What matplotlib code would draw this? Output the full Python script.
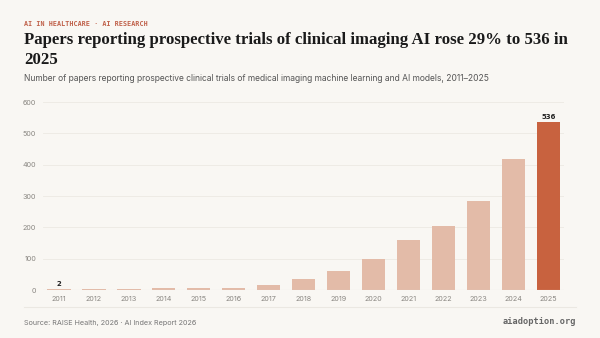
import matplotlib.pyplot as plt

# data
years = ["2011", "2012", "2013", "2014", "2015", "2016", "2017", "2018",
         "2019", "2020", "2021", "2022", "2023", "2024", "2025"]
papers = [2, 4, 4, 7, 6, 7, 16, 35, 60, 100, 161, 205, 283, 418, 536]
y_ticks = [0, 100, 200, 300, 400, 500, 600]

BG = "#f9f7f3"
BAR = "#e3bba8"
HIGHLIGHT = "#c8623f"
ACCENT = "#c0614a"

fig = plt.figure(figsize=(6, 3.38), dpi=100, facecolor=BG)
ax = fig.add_axes([0.072, 0.142, 0.868, 0.556])
ax.set_facecolor(BG)

colors = [BAR] * (len(years) - 1) + [HIGHLIGHT]
x = range(len(years))
ax.bar(x, papers, width=0.67, color=colors, zorder=3)

# value labels on first and last bars
for i in (0, len(years) - 1):
    ax.text(i, papers[i] + 8, str(papers[i]), ha="center", va="bottom",
            fontsize=5, fontweight="bold", color="#222222", family="DejaVu Sans")

ax.set_xlim(-0.45, len(years) - 0.55)
ax.set_ylim(0, 600)
ax.set_yticks(y_ticks)
ax.set_xticks(list(x))
ax.set_xticklabels(years)
ax.tick_params(axis="both", length=0, labelsize=5.2, labelcolor="#8a8782", pad=5)
ax.tick_params(axis="x", pad=4)
for t in ax.get_xticklabels() + ax.get_yticklabels():
    t.set_family("Inter")

ax.grid(axis="y", color="#ece9e3", linewidth=0.6, zorder=0)
ax.axhline(0, color="#dcd8d1", linewidth=0.8, zorder=4)
for s in ax.spines.values():
    s.set_visible(False)

# header texts
fig.text(0.04, 0.929, "AI IN HEALTHCARE · AI RESEARCH", fontsize=4.9,
         family="DejaVu Sans Mono", fontweight="bold", color=ACCENT, va="center")
fig.text(0.04, 0.905,
         "Papers reporting prospective trials of clinical imaging AI rose 29% to 536 in\n2025",
         fontsize=12.1, family="Liberation Serif", fontweight="bold", color="#1a1a1a",
         va="top", linespacing=1.3)
fig.text(0.04, 0.768,
         "Number of papers reporting prospective clinical trials of medical imaging machine learning and AI models, 2011\u20132025",
         fontsize=6.1, family="Inter", color="#555555", va="center")

# footer
fig.add_artist(plt.Line2D([0.04, 0.96], [0.092, 0.092], color="#ebe8e2",
                          linewidth=0.8, transform=fig.transFigure))
fig.text(0.04, 0.045, "Source: RAISE Health, 2026 · AI Index Report 2026",
         fontsize=5.2, family="Inter", color="#777777", va="center")
fig.text(0.96, 0.048, "aiadoption.org", fontsize=6.2, family="DejaVu Sans Mono",
         fontweight="bold", color="#666666", ha="right", va="center")

fig.savefig("out.png", dpi=100, facecolor=BG)
